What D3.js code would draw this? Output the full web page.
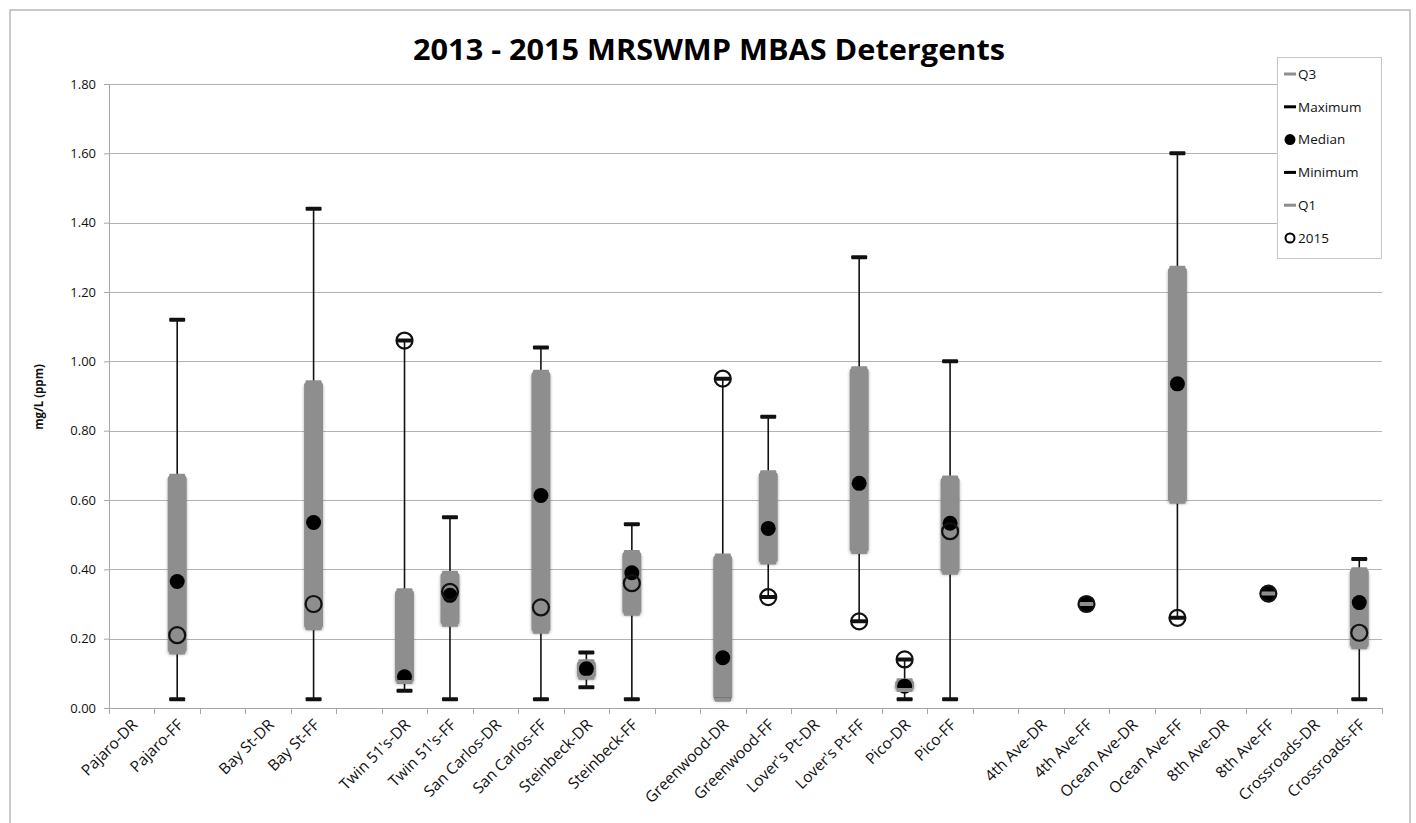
<!DOCTYPE html>
<html><head><meta charset="utf-8">
<script src="https://cdn.jsdelivr.net/npm/d3@7"></script>
<style>body{margin:0;background:#fff;} svg{display:block;} svg text{font-family:"Open Sans","Liberation Sans",sans-serif;}</style>
</head><body>
<svg id="c" width="1416" height="823"></svg>
<script>
const categories = ["Pajaro-DR","Pajaro-FF","","Bay St-DR","Bay St-FF","","Twin 51's-DR","Twin 51's-FF","San Carlos-DR","San Carlos-FF","Steinbeck-DR","Steinbeck-FF","","Greenwood-DR","Greenwood-FF","Lover's Pt-DR","Lover's Pt-FF","Pico-DR","Pico-FF","","4th Ave-DR","4th Ave-FF","Ocean Ave-DR","Ocean Ave-FF","8th Ave-DR","8th Ave-FF","Crossroads-DR","Crossroads-FF"];
const N = null;
const q3Vals     = [N,0.67,N,N,0.94,N,0.34,0.39,N,0.97,0.135,0.45,N,0.44,0.68,N,0.98,0.08,0.665,N,N,0.30,N,1.27,N,0.33,N,0.40];
const maxVals    = [N,1.12,N,N,1.44,N,1.06,0.55,N,1.04,0.16,0.53,N,0.95,0.84,N,1.30,0.14,1.00,N,N,0.30,N,1.60,N,0.33,N,0.43];
const medianVals = [N,0.365,N,N,0.535,N,0.09,0.325,N,0.613,0.113,0.39,N,0.145,0.518,N,0.648,0.063,0.533,N,N,0.30,N,0.935,N,0.33,N,0.304];
const minVals    = [N,0.025,N,N,0.025,N,0.05,0.025,N,0.025,0.06,0.025,N,0.025,0.32,N,0.25,0.025,0.025,N,N,0.30,N,0.26,N,0.33,N,0.025];
const q1Vals     = [N,0.16,N,N,0.23,N,0.075,0.24,N,0.22,0.087,0.272,N,0.025,0.42,N,0.45,0.052,0.39,N,N,0.30,N,0.595,N,0.33,N,0.175];
const y2015Vals  = [N,0.21,N,N,0.30,N,1.06,0.335,N,0.29,N,0.36,N,0.95,0.32,N,0.25,0.14,0.51,N,N,0.30,N,0.26,N,0.33,N,0.217];
const yTicks = [0,0.2,0.4,0.6,0.8,1.0,1.2,1.4,1.6,1.8];
const legendItems = ["Q3","Maximum","Median","Minimum","Q1","2015"];

const FONT = '"Open Sans","Liberation Sans",sans-serif';
const svg = d3.select("#c");
const L=109,R=1382,T=84,B=708;
const x = d3.scaleBand().domain(d3.range(categories.length)).range([L,R]);
const y = d3.scaleLinear().domain([0,1.8]).range([B,T]);
const boxGray = "#8e8e8e";

const defs = svg.append("defs");
const f = defs.append("filter").attr("id","sh").attr("x","-50%").attr("y","-20%").attr("width","200%").attr("height","140%");
f.append("feDropShadow").attr("dx",0).attr("dy",2).attr("stdDeviation",1.5).attr("flood-color","#000").attr("flood-opacity",0.35);

// outer frame
svg.append("rect").attr("x",10).attr("y",10).attr("width",1400).attr("height",830).attr("fill","none").attr("stroke","#a6a6a6").attr("stroke-width",1.2);

// gridlines
svg.append("g").selectAll("line").data(yTicks.filter(d=>d>0)).join("line")
  .attr("x1",L).attr("x2",R).attr("y1",d=>Math.round(y(d))+0.5).attr("y2",d=>Math.round(y(d))+0.5)
  .attr("stroke","#b3b3b3").attr("stroke-width",1);

// y axis
const ya = svg.append("g").attr("transform",`translate(${L},0)`).call(d3.axisLeft(y).tickValues(yTicks).tickFormat(d3.format(".2f")).tickSize(5));
ya.attr("font-family",FONT);
ya.select(".domain").attr("stroke","#a6a6a6");
ya.selectAll(".tick line").attr("stroke","#a6a6a6");
ya.selectAll("text").attr("font-size",13).attr("fill","#111").attr("x",-13);

// x axis
const xa = svg.append("g").attr("transform",`translate(0,${B})`).call(d3.axisBottom(x).tickFormat(i=>categories[i]).tickSize(0));
xa.attr("font-family",FONT);
xa.select(".domain").attr("stroke","#a6a6a6");
xa.selectAll("text").attr("font-size",15.5).attr("fill","#111")
  .attr("text-anchor","end").attr("transform","translate(3,14) rotate(-45)").attr("dy","0.35em").attr("y",0).attr("x",0);
svg.append("g").selectAll("line").data(d3.range(categories.length+1)).join("line")
  .attr("x1",i=>Math.round(L+i*x.step())+0.5).attr("x2",i=>Math.round(L+i*x.step())+0.5)
  .attr("y1",B).attr("y2",B+6).attr("stroke","#a6a6a6");

const idx = d3.range(categories.length);
const cx = i => x(i)+x.bandwidth()/2;
const g = svg.append("g");

// whiskers
g.selectAll(".wh").data(idx.filter(i=>maxVals[i]!=null && maxVals[i]>minVals[i])).join("line")
  .attr("x1",cx).attr("x2",cx).attr("y1",i=>y(maxVals[i])).attr("y2",i=>y(minVals[i]))
  .attr("stroke","#111").attr("stroke-width",1.6);
// boxes
g.selectAll(".bx").data(idx.filter(i=>q3Vals[i]!=null && q3Vals[i]>q1Vals[i])).join("rect")
  .attr("x",i=>cx(i)-9.5).attr("width",19).attr("y",i=>y(q3Vals[i])).attr("height",i=>y(q1Vals[i])-y(q3Vals[i]))
  .attr("rx",3).attr("fill",boxGray).attr("filter","url(#sh)");

function dash(vals,color){
  g.append("g").selectAll("rect").data(idx.filter(i=>vals[i]!=null)).join("rect")
   .attr("x",i=>cx(i)-8).attr("width",16).attr("y",i=>y(vals[i])-2).attr("height",4).attr("rx",1)
   .attr("fill",color);
}
dash(q3Vals,boxGray);
dash(maxVals,"#111");
g.append("g").selectAll("circle").data(idx.filter(i=>medianVals[i]!=null)).join("circle")
  .attr("cx",cx).attr("cy",i=>y(medianVals[i])).attr("r",7.5).attr("fill","#000");
dash(minVals,"#111");
dash(q1Vals,boxGray);
g.append("g").selectAll("circle").data(idx.filter(i=>y2015Vals[i]!=null)).join("circle")
  .attr("cx",cx).attr("cy",i=>y(y2015Vals[i])).attr("r",8).attr("fill","none").attr("stroke","#111").attr("stroke-width",2.2);

// title
svg.append("text").attr("x",709).attr("y",60).attr("text-anchor","middle").attr("font-size",28).attr("font-weight","bold").attr("fill","#000")
  .attr("textLength",592).attr("lengthAdjust","spacingAndGlyphs")
  .text("2013 - 2015 MRSWMP MBAS Detergents");
// y label
svg.append("text").attr("transform","translate(43,397) rotate(-90)").attr("text-anchor","middle").attr("font-size",11.5).attr("font-weight","bold").attr("fill","#111").text("mg/L (ppm)");

// legend
const lg = svg.append("g");
lg.append("rect").attr("x",1277.5).attr("y",57.5).attr("width",104).attr("height",201).attr("fill","#fff").attr("stroke","#c8c8c8");
legendItems.forEach((t,k)=>{
  const yy = 74 + k*32.8;
  if (t==="Median") lg.append("circle").attr("cx",1290).attr("cy",yy).attr("r",5.5).attr("fill","#000");
  else if (t==="2015") lg.append("circle").attr("cx",1290).attr("cy",yy).attr("r",4.5).attr("fill","none").attr("stroke","#000").attr("stroke-width",2);
  else lg.append("rect").attr("x",1284).attr("y",yy-1.5).attr("width",12).attr("height",3).attr("fill",(t==="Q3"||t==="Q1")?boxGray:"#000");
  lg.append("text").attr("x",1298).attr("y",yy).attr("dy","0.35em").attr("font-size",13.5).attr("fill","#111").text(t);
});
</script>
</body></html>
